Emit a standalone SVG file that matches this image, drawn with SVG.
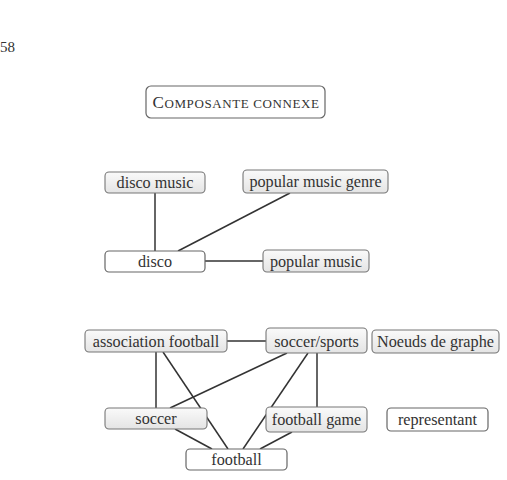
<svg xmlns="http://www.w3.org/2000/svg" width="507" height="480" viewBox="0 0 507 480">
<style>
text{font-family:"Liberation Serif","DejaVu Serif",serif;font-size:16.2px;fill:#333;text-anchor:middle}
.n rect{fill:url(#g);stroke:#777;stroke-width:1.1}
.r rect{fill:#fff;stroke:#666;stroke-width:1.2}
.e line{stroke:#333;stroke-width:1.5}
</style>
<defs>
<linearGradient id="g" x1="0" y1="0" x2="0" y2="1">
<stop offset="0" stop-color="#fafafa"/>
<stop offset="1" stop-color="#e4e4e4"/>
</linearGradient>
</defs>
<rect width="507" height="480" fill="#fff"/>
<text x="0" y="52" style="text-anchor:start;font-size:15px">58</text>
<g id="title" class="r"><rect x="146" y="86" width="179" height="32" rx="5"/>
<text x="236" y="108" style="font-size:17px;letter-spacing:0.6px"><tspan>C</tspan><tspan style="font-size:13px">OMPOSANTE CONNEXE</tspan></text></g>
<g id="connectors" class="e">
<line x1="155" y1="193" x2="155" y2="251"/>
<line x1="290" y1="193" x2="178" y2="251"/>
<line x1="205" y1="261" x2="263" y2="261"/>
<line x1="227" y1="341" x2="266" y2="341"/>
<line x1="156" y1="352" x2="156" y2="408"/>
<line x1="163" y1="352" x2="228" y2="449"/>
<line x1="287" y1="353" x2="170" y2="408"/>
<line x1="308" y1="353" x2="243" y2="449"/>
<line x1="317" y1="353" x2="317" y2="407"/>
<line x1="175" y1="429" x2="212" y2="449"/>
<line x1="292" y1="432" x2="260" y2="449"/>
</g>
<g id="disco-music" class="n"><rect x="105" y="172" width="100" height="21" rx="4"/><text x="155" y="187.5">disco music</text></g>
<g id="popular-music-genre" class="n"><rect x="243" y="170" width="145" height="23" rx="4"/><text x="315.5" y="186.5">popular music genre</text></g>
<g id="disco" class="r"><rect x="105" y="251" width="100" height="21" rx="4"/><text x="155" y="266.5">disco</text></g>
<g id="popular-music" class="n"><rect x="263" y="250" width="106" height="22" rx="4"/><text x="316" y="266.5">popular music</text></g>
<g id="association-football" class="n"><rect x="85" y="330" width="142" height="22" rx="4"/><text x="156" y="346.5">association football</text></g>
<g id="soccer-sports" class="n"><rect x="266" y="328" width="101" height="25" rx="4"/><text x="316.5" y="346.5">soccer/sports</text></g>
<g id="noeuds-de-graphe" class="n"><rect x="372" y="330" width="127" height="23" rx="4"/><text x="435.5" y="346.5">Noeuds de graphe</text></g>
<g id="soccer" class="n"><rect x="105" y="408" width="102" height="21" rx="4"/><text x="156" y="423.5">soccer</text></g>
<g id="football-game" class="n"><rect x="266" y="407" width="101" height="25" rx="4"/><text x="316.5" y="424.5">football game</text></g>
<g id="representant" class="r"><rect x="387" y="408" width="101" height="23" rx="4"/><text x="437.5" y="424.5">representant</text></g>
<g id="football" class="r"><rect x="186" y="449" width="101" height="21" rx="4"/><text x="236.5" y="465">football</text></g>
</svg>
